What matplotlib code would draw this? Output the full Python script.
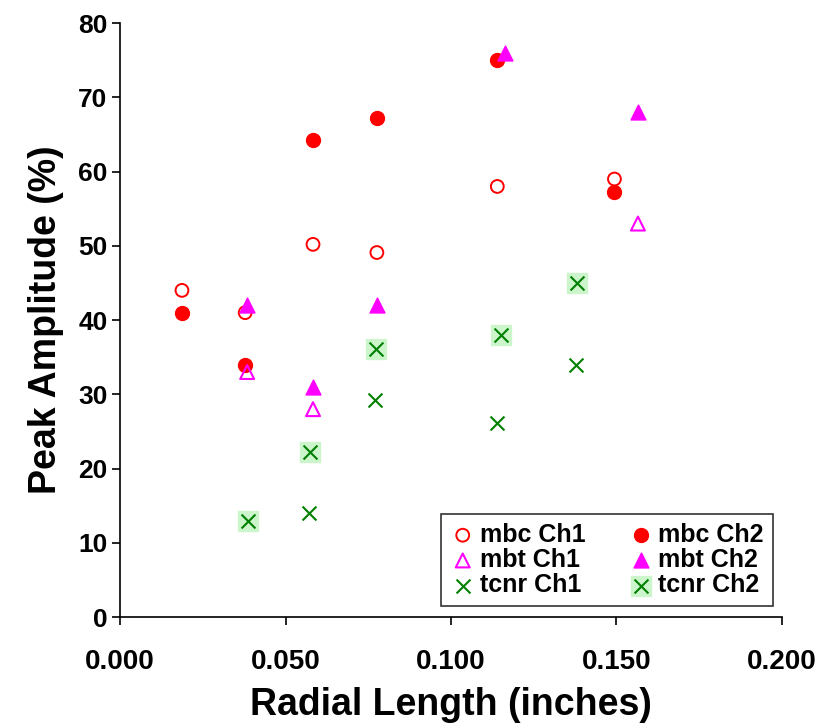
import matplotlib
matplotlib.use("Agg")
import matplotlib.pyplot as plt
from matplotlib.legend_handler import HandlerTuple

plt.rcParams['font.family'] = ['Liberation Sans', 'DejaVu Sans']
plt.rcParams['font.weight'] = 'bold'

# data
mbc1_x = [0.0187, 0.0378, 0.0583, 0.0776, 0.1140, 0.1494]
mbc1_y = [44.0, 41.0, 50.2, 49.1, 58.0, 59.0]
mbc2_x = [0.0187, 0.0378, 0.0583, 0.0776, 0.1140, 0.1494]
mbc2_y = [41.0, 34.0, 64.2, 67.2, 75.0, 57.2]
mbt1_x = [0.0384, 0.0583, 0.1565]
mbt1_y = [33.0, 28.0, 53.0]
mbt2_x = [0.0384, 0.0583, 0.0776, 0.1163, 0.1565]
mbt2_y = [42.0, 31.0, 42.0, 76.0, 68.0]
tcnr1_x = [0.0570, 0.0770, 0.1140, 0.1378]
tcnr1_y = [14.0, 29.2, 26.2, 34.0]
tcnr2_x = [0.0387, 0.0574, 0.0773, 0.1150, 0.1380]
tcnr2_y = [13.0, 22.2, 36.1, 38.0, 45.0]

fig = plt.figure(figsize=(8.17, 7.23), dpi=100)
ax = fig.add_axes([0.147, 0.1466, 0.81, 0.8214])

h1 = ax.scatter(mbc1_x, mbc1_y, s=85, facecolors='none', edgecolors='red', linewidths=1.4, zorder=3)
h2 = ax.scatter(mbc2_x, mbc2_y, s=100, color='red', zorder=3)
h3 = ax.scatter(mbt1_x, mbt1_y, s=100, marker='^', facecolors='none', edgecolors='magenta', linewidths=1.5, zorder=4)
h4 = ax.scatter(mbt2_x, mbt2_y, s=115, marker='^', color='magenta', zorder=4)
h5 = ax.scatter(tcnr1_x, tcnr1_y, s=100, marker='x', color='green', linewidths=1.5, zorder=3)
bg = ax.scatter(tcnr2_x, tcnr2_y, s=200, marker='s', color='#ccf5cc', zorder=2)
h6 = ax.scatter(tcnr2_x, tcnr2_y, s=100, marker='x', color='green', linewidths=1.5, zorder=3)

ax.set_xlim(0, 0.2)
ax.set_ylim(0, 80)
ax.set_xticks([0, 0.05, 0.1, 0.15, 0.2])
ax.set_xticklabels(['0.000', '0.050', '0.100', '0.150', '0.200'])
ax.set_yticks(range(0, 81, 10))
ax.tick_params(labelsize=19, direction='out', length=6, width=1.2)
ax.tick_params(axis='x', pad=17, labelsize=20)
ax.tick_params(axis='y', pad=3)
for s in ['top', 'right']:
    ax.spines[s].set_visible(False)
for s in ['left', 'bottom']:
    ax.spines[s].set_linewidth(1.2)

ax.set_xlabel('Radial Length (inches)', fontsize=27, fontweight='bold', labelpad=9)
ax.set_ylabel('Peak Amplitude (%)', fontsize=27, fontweight='bold', labelpad=10)

leg = ax.legend([h1, h3, h5, h2, h4, (bg, h6)],
                ['mbc Ch1', 'mbt Ch1', 'tcnr Ch1', 'mbc Ch2', 'mbt Ch2', 'tcnr Ch2'],
                ncol=2, loc='lower right', bbox_to_anchor=(0.986, 0.0185),
                borderaxespad=0,
                fontsize=18, frameon=True, fancybox=False, edgecolor='black',
                handletextpad=0.2, columnspacing=1.7, labelspacing=0.05,
                handlelength=1.0, borderpad=0.35,
                handler_map={tuple: HandlerTuple(ndivide=1, pad=0)})
leg.get_frame().set_linewidth(1.2)
for t in leg.get_texts():
    t.set_fontweight('bold')

fig.savefig('out.png', dpi=100)
